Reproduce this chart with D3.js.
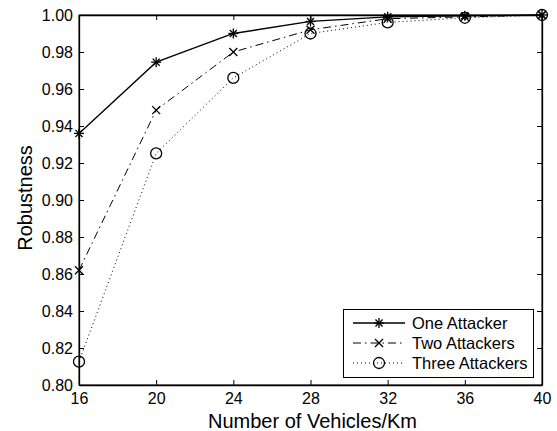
<!DOCTYPE html>
<html>
<head>
<meta charset="utf-8">
<script src="https://cdn.jsdelivr.net/npm/d3@7"></script>
<style>
  body { margin: 0; background: #fff; }
  text { font-family: "Liberation Sans", Arial, sans-serif; fill: #000; }
</style>
</head>
<body>
<div id="chart"></div>
<script>
var xTicks = [16, 20, 24, 28, 32, 36, 40];
var yTicks = [0.80, 0.82, 0.84, 0.86, 0.88, 0.90, 0.92, 0.94, 0.96, 0.98, 1.00];
var density = [16, 20, 24, 28, 32, 36, 40];
var oneAttacker = [0.936, 0.9745, 0.990, 0.9965, 0.9990, 0.9996, 1.000];
var twoAttackers = [0.862, 0.9486, 0.980, 0.992, 0.998, 0.999, 1.000];
var threeAttackers = [0.8126, 0.9252, 0.966, 0.990, 0.996, 0.9985, 1.000];
var seriesNames = ["One Attacker", "Two Attackers", "Three Attackers"];

var width = 557, height = 431,
    mLeft = 79, mRight = 542, mTop = 15, mBottom = 385;

var svg = d3.select("#chart").append("svg")
    .attr("width", width).attr("height", height);

var x = d3.scaleLinear().domain([16, 40]).range([mLeft, mRight]);
var y = d3.scaleLinear().domain([0.8, 1.0]).range([mBottom, mTop]);

// box
svg.append("rect")
    .attr("x", mLeft).attr("y", mTop)
    .attr("width", mRight - mLeft).attr("height", mBottom - mTop)
    .attr("fill", "none").attr("stroke", "#000").attr("stroke-width", 1);

// axes, ticks inward like matlab
var xAxis = svg.append("g").attr("transform", "translate(0," + mBottom + ")")
    .call(d3.axisBottom(x).tickValues(xTicks).tickSizeInner(-5).tickSizeOuter(0).tickPadding(8));
var xAxisTop = svg.append("g").attr("transform", "translate(0," + mTop + ")")
    .call(d3.axisTop(x).tickValues(xTicks).tickSizeInner(-5).tickSizeOuter(0).tickFormat(""));
var yAxis = svg.append("g").attr("transform", "translate(" + mLeft + ",0)")
    .call(d3.axisLeft(y).tickValues(yTicks).tickSizeInner(-5).tickSizeOuter(0).tickPadding(6).tickFormat(d3.format(".2f")));
var yAxisRight = svg.append("g").attr("transform", "translate(" + mRight + ",0)")
    .call(d3.axisRight(y).tickValues(yTicks).tickSizeInner(-5).tickSizeOuter(0).tickFormat(""));

[xAxis, xAxisTop, yAxis, yAxisRight].forEach(a => {
    a.select(".domain").attr("stroke", "#000").attr("stroke-width", 1.3);
    a.selectAll("line").attr("stroke", "#000");
    a.selectAll("text").style("font-size", "16px").style("font-family", "'Liberation Sans', Arial, sans-serif");
});

svg.append("text")
    .attr("x", (mLeft + mRight) / 2 + 2).attr("y", 428)
    .attr("text-anchor", "middle").style("font-size", "20px")
    .text("Number of Vehicles/Km");

svg.append("text")
    .attr("transform", "translate(32,198) rotate(-90)")
    .attr("text-anchor", "middle").style("font-size", "20px")
    .text("Robustness");

var styles = [
    {vals: oneAttacker, dash: null, marker: "star"},
    {vals: twoAttackers, dash: "8,4,1.5,4", marker: "x"},
    {vals: threeAttackers, dash: "1,3", marker: "o"}
];

function drawMarker(g, type, cx, cy) {
    if (type == "star") {
        var r = 5;
        [0, 45, 90, 135].forEach(a => {
            var rad = a * Math.PI / 180;
            g.append("line")
                .attr("x1", cx - r * Math.cos(rad)).attr("y1", cy - r * Math.sin(rad))
                .attr("x2", cx + r * Math.cos(rad)).attr("y2", cy + r * Math.sin(rad))
                .attr("stroke", "#000").attr("stroke-width", 1.3);
        });
    } else if (type == "x") {
        var r = 4;
        g.append("path")
            .attr("d", "M" + (cx - r) + "," + (cy - r) + "L" + (cx + r) + "," + (cy + r) +
                       "M" + (cx - r) + "," + (cy + r) + "L" + (cx + r) + "," + (cy - r))
            .attr("stroke", "#000").attr("stroke-width", 1.3);
    } else {
        g.append("circle").attr("cx", cx).attr("cy", cy).attr("r", 5.5)
            .attr("fill", "none").attr("stroke", "#000").attr("stroke-width", 1.3);
    }
}

var line = d3.line().x(d => x(d[0])).y(d => y(d[1]));

styles.forEach(s => {
    var pts = density.map((d, i) => [d, s.vals[i]]);
    svg.append("path")
        .datum(pts)
        .attr("d", line)
        .attr("fill", "none")
        .attr("stroke", "#000")
        .attr("stroke-width", s.dash ? 1 : 1.3)
        .attr("stroke-dasharray", s.dash);
    var g = svg.append("g");
    pts.forEach(p => drawMarker(g, s.marker, x(p[0]), y(p[1])));
});

// legend
var lg = svg.append("g");
lg.append("rect")
    .attr("x", 343.5).attr("y", 309.5).attr("width", 190).attr("height", 68)
    .attr("fill", "#fff").attr("stroke", "#000").attr("stroke-width", 1);
styles.forEach((s, i) => {
    var ly = 323 + i * 20;
    lg.append("line")
        .attr("x1", 353).attr("x2", 405).attr("y1", ly).attr("y2", ly)
        .attr("stroke", "#000").attr("stroke-width", s.dash ? 1 : 1.3)
        .attr("stroke-dasharray", s.dash);
    drawMarker(lg, s.marker, 379, ly);
    lg.append("text")
        .attr("x", 412).attr("y", ly + 6)
        .style("font-size", "16.5px")
        .text(seriesNames[i]);
});
</script>
</body>
</html>
